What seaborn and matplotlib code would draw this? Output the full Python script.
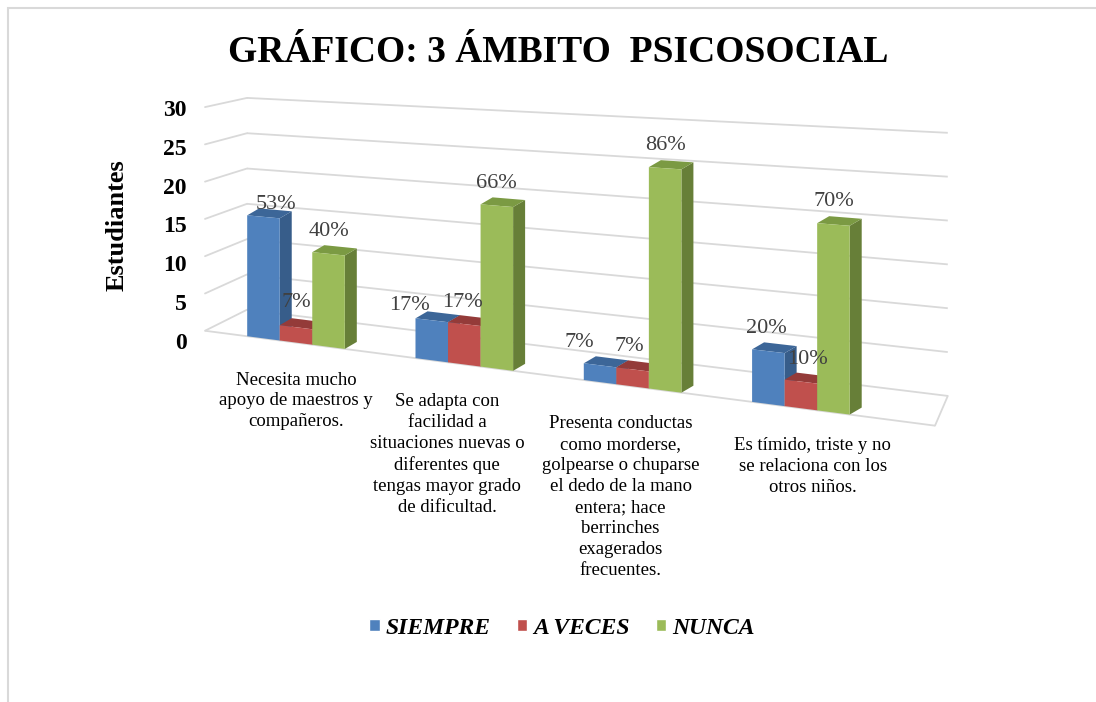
import numpy as np
import pandas as pd
import matplotlib
matplotlib.use("Agg")
import matplotlib.pyplot as plt
import matplotlib.transforms as mtransforms
from matplotlib.patches import Polygon, Rectangle
import seaborn as sns

# Datos del gráfico (30 estudiantes)
categorias = [
    "Necesita mucho\napoyo de maestros y\ncompañeros.",
    "Se adapta con\nfacilidad a\nsituaciones nuevas o\ndiferentes que\ntengas mayor grado\nde dificultad.",
    "Presenta conductas\ncomo morderse,\ngolpearse o chuparse\nel dedo de la mano\nentera; hace\nberrinches\nexagerados\nfrecuentes.",
    "Es tímido, triste y no\nse relaciona con los\notros niños.",
]
series = ["SIEMPRE", "A VECES", "NUNCA"]
siempre = [16, 5, 2, 6]
a_veces = [2, 5, 2, 3]
nunca = [12, 20, 26, 21]
pct_siempre = ["53%", "17%", "7%", "20%"]
pct_a_veces = ["7%", "17%", "7%", "10%"]
pct_nunca = ["40%", "66%", "86%", "70%"]
y_ticks = [0, 5, 10, 15, 20, 25, 30]

colores = ["#4F81BD", "#C0504D", "#9BBB59"]
colores_arriba = ["#3C6698", "#943B39", "#7B9A43"]
colores_lado = ["#375D8A", "#8A3533", "#677F38"]

# desplazamientos (px) de etiquetas, como los dejó Excel
dx_etiquetas = [[13, -22, -21, -2], [0, -2, -3, 7], [0, 0, 0, 0]]
dy_etiquetas = [[8, 10, 18, 18], [20, 17, 18, 18], [18, 18, 18, 18]]
dx_categorias = [0, -17, -12, 12]

W, H = 1096, 702
AX_LEFT, AX_RIGHT = 205, 935
AX_TOP, AX_BOT = 108, 341
C0, PASO = 296, 168.3


class Perspectiva(mtransforms.Transform):
    # plano inclinado tipo grafico 3D de Excel (coordenadas en pixeles)
    input_dims = 2
    output_dims = 2
    is_separable = False
    has_inverse = False

    def __init__(self, ax, x0, y0, pendiente, escala, d_escala, x_ini, x_fac=1.0):
        super().__init__()
        self.ax = ax
        self.x0, self.y0 = x0, y0
        self.pendiente = pendiente
        self.escala, self.d_escala = escala, d_escala
        self.x_ini, self.x_fac = x_ini, x_fac

    def transform_non_affine(self, values):
        xy = np.asarray(values, dtype=float)
        uno = xy.ndim == 1
        xy = xy.reshape(-1, 2)
        X = self.ax.transData.transform(np.column_stack([xy[:, 0], np.zeros(len(xy))]))[:, 0]
        X = self.x_ini + (X - AX_LEFT) * self.x_fac
        dX = X - self.x0
        y_img = self.y0 + self.pendiente * dX - xy[:, 1] * (self.escala + self.d_escala * dX)
        res = np.column_stack([X, H - y_img])
        return res[0] if uno else res


sns.set_style("white")
plt.rcParams["font.family"] = ["Liberation Serif", "DejaVu Serif"]
plt.rcParams["text.color"] = "black"
plt.rcParams["ytick.color"] = "black"
plt.rcParams["ytick.labelcolor"] = "black"

df = pd.DataFrame({
    "Categoria": np.repeat(categorias, 3),
    "Serie": series * len(categorias),
    "Estudiantes": np.ravel(np.column_stack([siempre, a_veces, nunca])),
})

fig = plt.figure(figsize=(W / 100, H / 100), dpi=100)
ax = fig.add_axes([AX_LEFT / W, 1 - AX_BOT / H, (AX_RIGHT - AX_LEFT) / W, (AX_BOT - AX_TOP) / H])

sns.barplot(data=df, x="Categoria", y="Estudiantes", hue="Serie", hue_order=series,
            palette=colores, width=0.58, saturation=1, errorbar=None, ax=ax, zorder=3)

handles, labels = ax.get_legend_handles_labels()
if ax.get_legend() is not None:
    ax.get_legend().remove()

ax.set_xlim(-(C0 - AX_LEFT) / PASO, (AX_RIGHT - C0) / PASO)
ax.set_ylim(0, 30)
ax.set_xticks([])
ax.set_yticks(y_ticks)
ax.set_yticklabels([str(t) for t in y_ticks], fontsize=17, fontweight="bold", color="black")
ax.tick_params(axis="y", length=0, pad=13)
ax.set_xlabel("")
ax.set_ylabel("")
for s in ax.spines.values():
    s.set_visible(False)
ax.patch.set_visible(False)

frente = Perspectiva(ax, 253, 337, 0.13, 7.57, 0.00238, AX_LEFT)
fondo = Perspectiva(ax, 550, 347, 0.123, 7.8, 0.00244, 247, 0.96)
ident = mtransforms.IdentityTransform()
gris = "#D9D9D9"

# pared del fondo, pared lateral y piso
xl, xr = ax.get_xlim()
ax.hlines(y_ticks, xl, xr, transform=fondo, colors=gris, lw=1.3, clip_on=False, zorder=0.5)
for t in y_ticks:
    p1 = frente.transform((xl, t))
    p2 = fondo.transform((xl, t))
    ax.plot([p1[0], p2[0]], [p1[1], p2[1]], transform=ident, color=gris, lw=1.3,
            clip_on=False, zorder=0.5)
ax.hlines([0], xl, xr, transform=frente, colors=gris, lw=1.3, clip_on=False, zorder=0.5)
p1 = frente.transform((xr, 0))
p2 = fondo.transform((xr, 0))
ax.plot([p1[0], p2[0]], [p1[1], p2[1]], transform=ident, color=gris, lw=1.3,
        clip_on=False, zorder=0.5)

# barras con caras de profundidad
prof = np.array([12, 7])
textos = [pct_siempre, pct_a_veces, pct_nunca]
for k, cont in enumerate(ax.containers):
    for j, bar in enumerate(cont.patches):
        x1 = bar.get_x()
        x2 = x1 + bar.get_width()
        h = bar.get_height()
        bar.set_transform(frente)
        bar.set_clip_on(False)
        bar.set_edgecolor("none")
        bar.set_zorder(3)
        a0, b0, b1, a1 = frente.transform([(x1, 0), (x2, 0), (x2, h), (x1, h)])
        lado = Polygon([b0, b1, b1 + prof, b0 + prof], closed=True, transform=ident,
                       facecolor=colores_lado[k], edgecolor="none", zorder=1, clip_on=False)
        arriba = Polygon([a1, b1, b1 + prof, a1 + prof], closed=True, transform=ident,
                         facecolor=colores_arriba[k], edgecolor="none", zorder=2, clip_on=False)
        ax.add_patch(lado)
        ax.add_patch(arriba)
        desp = mtransforms.Affine2D().translate(dx_etiquetas[k][j], dy_etiquetas[k][j])
        ax.text((x1 + x2) / 2, h, textos[k][j], transform=frente + desp,
                ha="center", va="baseline", fontsize=16, color="#404040", zorder=5)

# etiquetas de categoria
for i, cat in enumerate(categorias):
    desp = mtransforms.Affine2D().translate(dx_categorias[i], -29)
    ax.text(i, 0, cat, transform=frente + desp,
            ha="center", va="top", fontsize=13.5, linespacing=1.3, color="black")

fig.text(558 / W, 1 - 53 / H, "GRÁFICO: 3 ÁMBITO  PSICOSOCIAL", ha="center", va="center",
         fontsize=27, fontweight="bold", color="black")
fig.text(117 / W, 1 - 225 / H, "Estudiantes", rotation=90, ha="center", va="center",
         fontsize=19, fontweight="bold", color="black")

fig.legend(handles, series, loc="center", bbox_to_anchor=(562 / W, 1 - 628 / H), ncol=3,
           frameon=False, handlelength=0.45, handleheight=0.45, handletextpad=0.25,
           columnspacing=1.1, labelcolor="black",
           prop={"size": 17, "weight": "bold", "style": "italic"})

fig.add_artist(Rectangle((8 / W, -0.1), 1.5, 1.1 - 8 / H, transform=fig.transFigure,
                         fill=False, edgecolor=gris, lw=1.5, clip_on=False))

fig.savefig("out.png", dpi=100)
